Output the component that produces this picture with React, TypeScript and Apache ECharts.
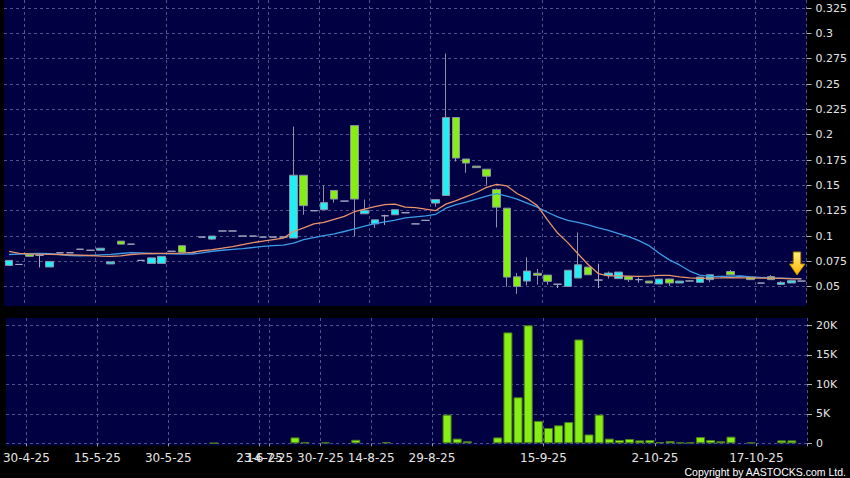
import React, { useEffect, useRef } from "react";
import * as echarts from "echarts";

const dates = [
  "28-4-25", "29-4-25", "30-4-25", "2-5-25", "6-5-25", "7-5-25", "8-5-25", "9-5-25", "13-5-25", "15-5-25",
  "16-5-25", "19-5-25", "20-5-25", "22-5-25", "23-5-25", "27-5-25", "30-5-25", "3-6-25", "4-6-25", "5-6-25",
  "6-6-25", "10-6-25", "12-6-25", "16-6-25", "19-6-25", "23-6-25", "14-7-25", "17-7-25", "21-7-25", "22-7-25",
  "25-7-25", "30-7-25", "1-8-25", "5-8-25", "8-8-25", "12-8-25", "14-8-25", "18-8-25", "20-8-25", "22-8-25",
  "26-8-25", "27-8-25", "29-8-25", "1-9-25", "2-9-25", "3-9-25", "4-9-25", "5-9-25", "8-9-25", "9-9-25",
  "10-9-25", "11-9-25", "12-9-25", "15-9-25", "16-9-25", "17-9-25", "18-9-25", "19-9-25", "22-9-25", "23-9-25",
  "25-9-25", "26-9-25", "29-9-25", "30-9-25", "2-10-25", "3-10-25", "6-10-25", "8-10-25", "9-10-25", "10-10-25",
  "13-10-25", "14-10-25", "15-10-25", "16-10-25", "17-10-25", "20-10-25", "21-10-25", "22-10-25", "23-10-25",
];

const labelDates = ["30-4-25", "15-5-25", "30-5-25", "23-6-25", "14-7-25", "30-7-25", "14-8-25", "29-8-25", "15-9-25", "2-10-25", "17-10-25"];

const opens = [
  0.071, 0.072, 0.082, 0.081, 0.0695, 0.0835, 0.0835, 0.087, 0.086, 0.086,
  0.0725, 0.095, 0.092, 0.076, 0.073, 0.073, 0.085, 0.0905, 0.0835, 0.099,
  0.097, 0.105, 0.105, 0.1, 0.1, 0.099, 0.099, 0.099, 0.098, 0.16,
  0.125, 0.126, 0.145, 0.1345, 0.209, 0.122, 0.112, 0.12, 0.121, 0.123,
  0.112, 0.1155, 0.1325, 0.14, 0.217, 0.176, 0.169, 0.166, 0.146, 0.1275,
  0.0598, 0.0556, 0.0633, 0.0615, 0.0525, 0.0503, 0.0586, 0.0694, 0.0566, 0.0611,
  0.058, 0.06, 0.057, 0.0556, 0.0527, 0.0576, 0.0537, 0.0557, 0.0543, 0.057,
  0.0602, 0.065, 0.06, 0.0596, 0.0536, 0.06, 0.0523, 0.0537, 0.0556,
];
const closes = [
  0.076, 0.072, 0.08, 0.081, 0.075, 0.0835, 0.0835, 0.087, 0.086, 0.088,
  0.0745, 0.092, 0.092, 0.076, 0.0785, 0.08, 0.085, 0.084, 0.0835, 0.099,
  0.1, 0.105, 0.105, 0.1, 0.1, 0.099, 0.099, 0.099, 0.16, 0.13,
  0.125, 0.133, 0.1365, 0.1345, 0.1365, 0.1255, 0.116, 0.12, 0.126, 0.123,
  0.112, 0.1155, 0.136, 0.217, 0.177, 0.172, 0.1675, 0.159, 0.1285, 0.0595,
  0.0503, 0.0655, 0.0613, 0.0553, 0.0525, 0.0663, 0.0717, 0.0618, 0.0566, 0.0635,
  0.0645, 0.057, 0.057, 0.0537, 0.0576, 0.0537, 0.0556, 0.0557, 0.0596, 0.0618,
  0.0602, 0.0618, 0.06, 0.057, 0.0536, 0.057, 0.0543, 0.056, 0.0556,
];
const lows = [
  0.071, 0.072, 0.08, 0.069, 0.0695, 0.0835, 0.0835, 0.087, 0.086, 0.086,
  0.0725, 0.092, 0.092, 0.076, 0.073, 0.073, 0.085, 0.084, 0.0835, 0.099,
  0.096, 0.105, 0.105, 0.1, 0.1, 0.099, 0.099, 0.099, 0.098, 0.121,
  0.125, 0.126, 0.133, 0.1345, 0.1, 0.122, 0.108, 0.111, 0.121, 0.123,
  0.112, 0.1155, 0.129, 0.14, 0.1735, 0.1625, 0.1675, 0.1505, 0.1085, 0.05,
  0.043, 0.0513, 0.052, 0.052, 0.0487, 0.0503, 0.0586, 0.0618, 0.0487, 0.058,
  0.058, 0.0547, 0.054, 0.0537, 0.0527, 0.0507, 0.0537, 0.0557, 0.0543, 0.0545,
  0.0602, 0.0618, 0.06, 0.057, 0.0536, 0.057, 0.0523, 0.0537, 0.0556,
];
const highs = [
  0.076, 0.072, 0.082, 0.082, 0.075, 0.0835, 0.0835, 0.087, 0.086, 0.088,
  0.0745, 0.095, 0.092, 0.076, 0.0785, 0.08, 0.085, 0.0905, 0.0835, 0.099,
  0.1, 0.105, 0.105, 0.1, 0.1, 0.099, 0.099, 0.099, 0.208, 0.16,
  0.125, 0.15, 0.145, 0.1345, 0.209, 0.136, 0.116, 0.121, 0.126, 0.123,
  0.112, 0.1155, 0.136, 0.28, 0.217, 0.176, 0.169, 0.166, 0.147, 0.1275,
  0.0635, 0.079, 0.0675, 0.0615, 0.0525, 0.0665, 0.1035, 0.0694, 0.0727, 0.065,
  0.0645, 0.06, 0.059, 0.0556, 0.0576, 0.0576, 0.0556, 0.0557, 0.0596, 0.0618,
  0.0602, 0.0665, 0.06, 0.0596, 0.0536, 0.0615, 0.0555, 0.056, 0.0556,
];

const volumes: (number | string)[] = [
  "-", "-", "-", "-", "-", "-", "-", "-", "-", "-",
  "-", "-", "-", "-", "-", "-", "-", "-", "-", "-",
  50, "-", "-", "-", "-", "-", "-", "-", 1000, 200,
  "-", 150, "-", "-", 600, "-", "-", 200, "-", "-",
  "-", "-", "-", 4860, 800, 350, "-", "-", 1000, 18800,
  7800, 20000, 3800, 2600, 3050, 3600, 17600, 1500, 4860, 800,
  560, 730, 500, 560, 200, 400, 150, 150, 1070, 560,
  350, 1130, "-", 150, "-", "-", 500, 500, "-",
];

const maShort = [
  0.085, 0.083, 0.0825, 0.0822, 0.082, 0.0818, 0.0815, 0.0812, 0.0808, 0.0802,
  0.08, 0.0805, 0.0818, 0.0825, 0.0828, 0.083, 0.083, 0.0832, 0.084, 0.0855,
  0.0866, 0.088, 0.0895, 0.0915, 0.0935, 0.095, 0.0965, 0.098, 0.1045, 0.108,
  0.112, 0.1135, 0.1165, 0.1195, 0.124, 0.1265, 0.129, 0.131, 0.1315, 0.1285,
  0.128, 0.1265, 0.1252, 0.1315, 0.135, 0.139, 0.143, 0.148, 0.151, 0.1495,
  0.142, 0.137, 0.13, 0.116, 0.103, 0.0935, 0.0825, 0.072, 0.063, 0.0608,
  0.0608, 0.0605, 0.0602, 0.0605, 0.0612, 0.0612, 0.0598, 0.0588, 0.0582, 0.0585,
  0.0587, 0.059, 0.0588, 0.0587, 0.0586, 0.0585, 0.0582, 0.0578, 0.0577,
];
const maLong = [
  0.0818, 0.0822, 0.0826, 0.0828, 0.0826, 0.0818, 0.0808, 0.0806, 0.0808, 0.0814,
  0.082, 0.0828, 0.0836, 0.0834, 0.0828, 0.0826, 0.0825, 0.0822, 0.0822, 0.0835,
  0.085, 0.086, 0.0868, 0.0877, 0.0887, 0.0898, 0.0905, 0.091, 0.093, 0.0965,
  0.0985, 0.1005, 0.1022, 0.1045, 0.107, 0.1098, 0.1123, 0.114, 0.1158, 0.118,
  0.119, 0.12, 0.1215, 0.1275, 0.131, 0.1335, 0.1365, 0.1395, 0.1418, 0.1395,
  0.1365, 0.1325, 0.1285, 0.1235, 0.119, 0.1155, 0.1135, 0.111, 0.108, 0.1055,
  0.1025, 0.0995, 0.0955, 0.0905, 0.083, 0.0765, 0.0715, 0.0655, 0.0615, 0.0603,
  0.06, 0.0604, 0.0606, 0.0598, 0.0592, 0.0588, 0.0585, 0.0582, 0.058,
];

const priceTicks = [0.05, 0.075, 0.1, 0.125, 0.15, 0.175, 0.2, 0.225, 0.25, 0.275, 0.3, 0.325];
const volumeTicks = [0, 5000, 10000, 15000, 20000];
const copyright = "Copyright by AASTOCKS.com Ltd.";

const PANEL = "#000042";
const GRIDLINE = "#4f5288";
const TEXT = "#e4e4e4";
const UP = "#22eef6";
const DOWN = "#86ee12";
const WICK = "#8e90a6";

export default function App() {
  const ref = useRef<HTMLDivElement>(null);

  useEffect(() => {
    if (!ref.current) return;
    const chart = echarts.init(ref.current, null, { renderer: "svg" });
    const labelSet = new Set(labelDates.map((d) => dates.indexOf(d)));
    const showAt = (i: number) => labelSet.has(i);
    const candleData = dates.map((_, i) => [opens[i], closes[i], lows[i], highs[i]]);
    const dashed = { color: GRIDLINE, type: [3, 3] as any, width: 1 };

    const option: any = {
      animation: false,
      backgroundColor: "#000000",
      grid: [
        { left: 4, top: 0, width: 803, height: 306, show: true, backgroundColor: PANEL, borderWidth: 0 },
        { left: 4, top: 318, width: 803, height: 127.5, show: true, backgroundColor: PANEL, borderWidth: 0 },
      ],
      xAxis: [
        {
          type: "category",
          gridIndex: 0,
          data: dates,
          boundaryGap: true,
          axisLine: { show: false },
          axisTick: { show: false },
          axisLabel: { show: false },
          splitLine: { show: true, interval: showAt, lineStyle: dashed },
        },
        {
          type: "category",
          gridIndex: 1,
          data: dates,
          boundaryGap: true,
          axisLine: { show: false },
          axisTick: { show: true, interval: showAt, length: 3, lineStyle: { color: "#9a9a9a" } },
          axisLabel: {
            show: true,
            interval: showAt,
            color: TEXT,
            fontSize: 12,
            fontFamily: "DejaVu Sans",
            margin: 6,
            padding: [0, 10, 0, 0],
          },
          splitLine: { show: true, interval: showAt, lineStyle: dashed },
        },
      ],
      yAxis: [
        {
          type: "value",
          gridIndex: 0,
          position: "right",
          min: 0.031,
          max: 0.3329,
          axisLine: { show: false },
          axisTick: { show: true, length: 5, customValues: priceTicks, lineStyle: { color: "#b0b0b0" } },
          axisLabel: {
            customValues: priceTicks,
            color: TEXT,
            fontSize: 11,
            fontFamily: "DejaVu Sans",
            margin: 9,
            formatter: (v: number) => String(+v.toFixed(3)),
          },
          splitLine: { show: true, lineStyle: dashed },
        },
        {
          type: "value",
          gridIndex: 1,
          position: "right",
          min: -370,
          max: 21237,
          axisLine: { show: false },
          axisTick: { show: true, length: 5, customValues: volumeTicks, lineStyle: { color: "#b0b0b0" } },
          axisLabel: {
            customValues: volumeTicks,
            color: TEXT,
            fontSize: 11,
            fontFamily: "DejaVu Sans",
            margin: 9,
            formatter: (v: number) => (v === 0 ? "0" : v / 1000 + "K"),
          },
          splitLine: { show: true, lineStyle: dashed },
        },
      ],
      series: [
        {
          type: "candlestick",
          xAxisIndex: 0,
          yAxisIndex: 0,
          data: candleData,
          barWidth: 8,
          itemStyle: {
            color: UP,
            color0: DOWN,
            borderColor: WICK,
            borderColor0: WICK,
            borderColorDoji: "#a4a6c0",
            borderWidth: 1,
          },
          z: 2,
        },
        {
          type: "line",
          xAxisIndex: 0,
          yAxisIndex: 0,
          data: maLong,
          symbol: "none",
          lineStyle: { color: "#3c9ce8", width: 1.3 },
          z: 3,
        },
        {
          type: "line",
          xAxisIndex: 0,
          yAxisIndex: 0,
          data: maShort,
          symbol: "none",
          lineStyle: { color: "#e8936a", width: 1.3 },
          z: 4,
        },
        {
          type: "bar",
          xAxisIndex: 1,
          yAxisIndex: 1,
          data: volumes,
          barWidth: 9,
          itemStyle: { color: DOWN, borderColor: "#4a7e1c", borderWidth: 1 },
        },
      ],
      graphic: [
        {
          type: "polygon",
          z: 100,
          shape: {
            points: [
              [793.3, 252],
              [800.7, 252],
              [800.7, 264],
              [805, 264],
              [797, 275],
              [789.5, 264],
              [793.3, 264],
            ],
          },
          style: {
            fill: new echarts.graphic.LinearGradient(0, 0, 0, 1, [
              { offset: 0, color: "#fff27a" },
              { offset: 1, color: "#ffb400" },
            ]),
            stroke: "#b88200",
            lineWidth: 1,
          },
        },
        {
          type: "text",
          z: 100,
          x: 846,
          y: 472,
          style: {
            text: copyright,
            fill: "#ffffff",
            fontSize: 10.5,
            fontFamily: "Liberation Sans",
            align: "right",
            verticalAlign: "middle",
          },
        },
      ],
    };

    chart.setOption(option);
    return () => chart.dispose();
  }, []);

  return (
    <div
      ref={ref}
      style={{ position: "fixed", left: 0, top: 0, width: 850, height: 478, background: "#000" }}
    />
  );
}
